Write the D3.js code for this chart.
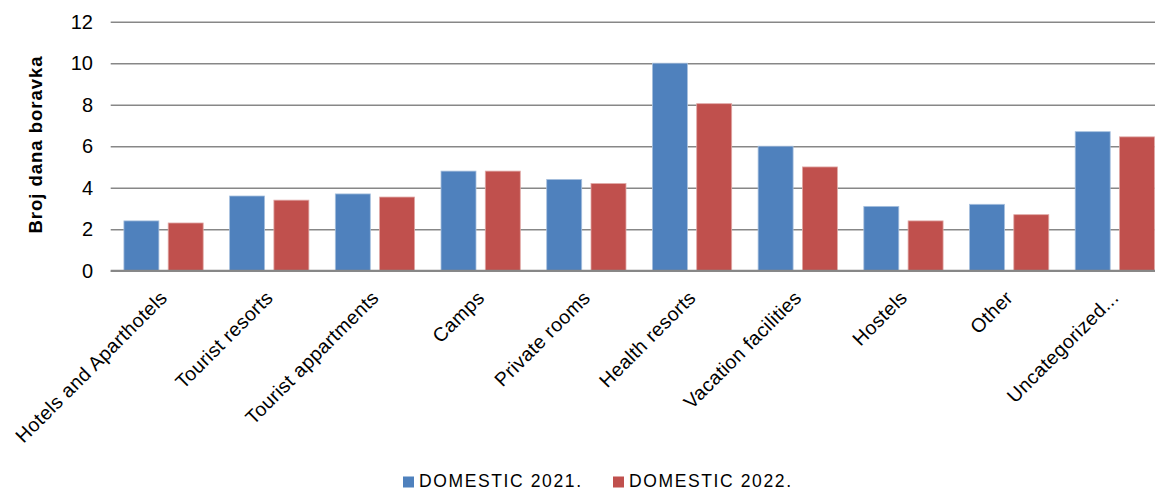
<!DOCTYPE html>
<html>
<head>
<meta charset="utf-8">
<script src="https://cdn.jsdelivr.net/npm/d3@7"></script>
<style>
  html, body { margin: 0; padding: 0; background: #fff; }
  svg { display: block; font-family: Arial, "Liberation Sans", Helvetica, sans-serif; }
</style>
</head>
<body>
<svg id="chart" width="1155" height="490"></svg>
<script>
const categories = ["Hotels and Aparthotels", "Tourist resorts", "Tourist appartments", "Camps", "Private rooms", "Health resorts", "Vacation facilities", "Hostels", "Other", "Uncategorized..."];
const seriesNames = ["DOMESTIC 2021.", "DOMESTIC 2022."];
const domestic2021 = [2.4, 3.6, 3.7, 4.8, 4.4, 10.0, 6.0, 3.1, 3.2, 6.7];
const domestic2022 = [2.3, 3.4, 3.55, 4.8, 4.2, 8.05, 5.0, 2.4, 2.7, 6.45];
const yTicks = [0, 2, 4, 6, 8, 10, 12];
const colors = ["#4F81BD", "#C0504D"];
const strokes = ["#A7C0DE", "#E0A8A6"];

(function () {
const svg = d3.select("#chart");
const W = 1155;
const pLeft = 110.7, pRight = 1167.7, pTop = 21.7, pBottom = 270.7;

const x = d3.scaleBand().domain(categories).range([pLeft, pRight]).paddingInner(0.25).paddingOuter(0.125);
const xs = d3.scaleBand().domain(seriesNames).range([0, x.bandwidth()]).paddingInner(0.21).paddingOuter(0);
const y = d3.scaleLinear().domain([0, 12]).range([pBottom, pTop]);

// gridlines
const grid = svg.append("g").attr("transform", `translate(${pLeft},0)`)
  .call(d3.axisLeft(y).tickValues(yTicks).tickSize(-(W - pLeft)).tickFormat(""));
grid.select(".domain").remove();
grid.selectAll(".tick line").attr("stroke", "#878787").attr("stroke-width", 1.6);

// y tick labels
svg.append("g").selectAll("text").data(yTicks).join("text")
  .attr("x", 93).attr("y", d => y(d)).attr("dy", "0.36em")
  .attr("text-anchor", "end").attr("font-size", 20).attr("fill", "#000")
  .text(d => d);

// bars
const data = categories.map((c, i) => ({ c, vals: [domestic2021[i], domestic2022[i]] }));
const groups = svg.append("g").selectAll("g").data(data).join("g")
  .attr("transform", d => `translate(${x(d.c)},0)`);
groups.selectAll("rect").data(d => d.vals.map((v, k) => ({ v, k }))).join("rect")
  .attr("x", d => xs(seriesNames[d.k]))
  .attr("y", d => y(d.v))
  .attr("width", xs.bandwidth())
  .attr("height", d => y(0) - y(d.v))
  .attr("fill", d => colors[d.k])
  .attr("stroke", d => strokes[d.k]).attr("stroke-width", 0.8);

// baseline
svg.append("line").attr("x1", pLeft).attr("x2", W).attr("y1", y(0)).attr("y2", y(0))
  .attr("stroke", "#878787").attr("stroke-width", 2);

// x labels
svg.append("g").selectAll("text").data(categories).join("text")
  .attr("transform", d => `translate(${x(d) + x.bandwidth() / 2 + 5},299) rotate(-45)`)
  .attr("text-anchor", "end").attr("font-size", 19.5).attr("letter-spacing", "0.4px")
  .attr("fill", "#000").text(d => d);

// y title
svg.append("text")
  .attr("transform", "translate(42,145) rotate(-90)")
  .attr("text-anchor", "middle").attr("font-size", 18.5).attr("font-weight", "bold")
  .attr("textLength", 177).attr("lengthAdjust", "spacing")
  .attr("fill", "#000").text("Broj dana boravka");

// legend
const legendX = [403, 613];
const lg = svg.append("g").selectAll("g").data(seriesNames).join("g")
  .attr("transform", (d, i) => `translate(${legendX[i]},0)`);
lg.append("rect").attr("x", 0).attr("y", 476.5).attr("width", 11).attr("height", 11)
  .attr("fill", (d, i) => colors[i]);
lg.append("text").attr("x", 16).attr("y", 487).attr("font-size", 17.5)
  .attr("textLength", 162).attr("lengthAdjust", "spacing")
  .attr("fill", "#000").text(d => d);
})();
</script>
</body>
</html>
